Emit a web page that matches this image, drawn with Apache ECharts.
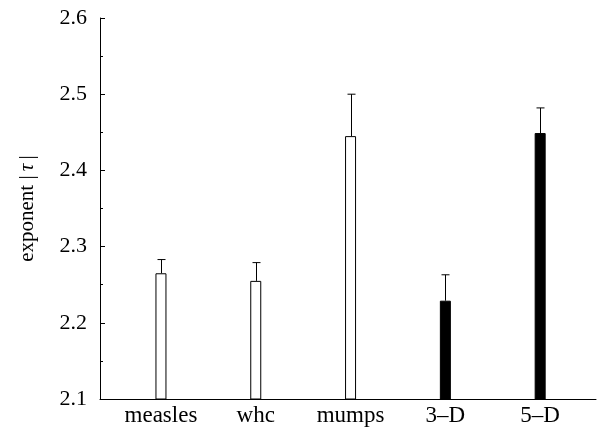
<!DOCTYPE html>
<html>
<head>
<meta charset="utf-8">
<script src="https://cdn.jsdelivr.net/npm/echarts@6/dist/echarts.min.js"></script>
<style>
  html, body { margin: 0; padding: 0; background: #fff; }
  #main { width: 599px; height: 435px; }
</style>
</head>
<body>
<div id="main"></div>
<script>
var myChart = echarts.init(document.getElementById('main'));

// data
var categories = ['measles', 'whc', 'mumps', '3\u2013D', '5\u2013D'];
var positions = [1, 2, 3, 4, 5];
var exponents = [2.265, 2.255, 2.445, 2.229, 2.449];
var errorTops = [2.283, 2.279, 2.500, 2.263, 2.482];
var filled = [false, false, false, true, true];

var serif = '"Liberation Serif", "DejaVu Serif", serif';

var barData = positions.map(function (x, i) {
    return {
        value: [x, exponents[i]],
        itemStyle: { color: filled[i] ? '#000' : '#fff' }
    };
});
var errData = positions.map(function (x, i) {
    return [x, exponents[i], errorTops[i]];
});

option = {
    animation: false,
    grid: { left: 100, right: 3, top: 18, bottom: 36 },
    xAxis: {
        type: 'value',
        min: 0.357,
        max: 5.589,
        axisLine: { show: true, lineStyle: { color: '#000', width: 1 } },
        axisTick: { show: false },
        splitLine: { show: false },
        axisLabel: {
            customValues: positions,
            margin: 5,
            color: '#000',
            fontFamily: serif,
            fontSize: 23,
            formatter: function (v) {
                return categories[Math.round(v) - 1];
            }
        }
    },
    yAxis: {
        type: 'value',
        min: 2.1,
        max: 2.6,
        interval: 0.1,
        name: 'exponent |\u2009{i|τ}\u2009|',
        nameLocation: 'middle',
        nameGap: 62,
        nameTextStyle: {
            color: '#000',
            fontFamily: serif,
            fontSize: 21,
            rich: { i: { fontStyle: 'italic', fontFamily: serif, fontSize: 21, color: '#000' } }
        },
        axisLine: { show: true, lineStyle: { color: '#000', width: 1 } },
        axisTick: { show: true, inside: true, length: 5, lineStyle: { color: '#000' } },
        minorTick: { show: true, splitNumber: 2, length: 3, lineStyle: { color: '#000' } },
        splitLine: { show: false },
        axisLabel: {
            margin: 13,
            color: '#000',
            fontFamily: serif,
            fontSize: 22,
            formatter: function (v) { return v.toFixed(1); }
        }
    },
    series: [
        {
            type: 'bar',
            barWidth: 11,
            data: barData,
            itemStyle: { borderColor: '#000', borderWidth: 1 }
        },
        {
            type: 'custom',
            data: errData,
            z: 5,
            renderItem: function (params, api) {
                var base = api.coord([api.value(0), api.value(1)]);
                var top = api.coord([api.value(0), api.value(2)]);
                var x = Math.round(base[0]) + 0.5;
                return {
                    type: 'group',
                    children: [
                        {
                            type: 'line',
                            shape: { x1: x, y1: base[1], x2: x, y2: top[1] },
                            style: { stroke: '#000', lineWidth: 1 }
                        },
                        {
                            type: 'line',
                            shape: { x1: x - 4, y1: top[1], x2: x + 4, y2: top[1] },
                            style: { stroke: '#000', lineWidth: 1 }
                        }
                    ]
                };
            }
        }
    ]
};

myChart.setOption(option);
</script>
</body>
</html>
